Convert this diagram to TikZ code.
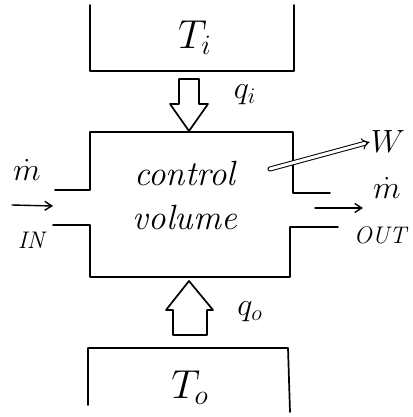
\documentclass[tikz,border=0pt]{standalone}
\usetikzlibrary{arrows.meta}
\begin{document}
\begin{tikzpicture}[x=1pt,y=-1pt,line width=1.7pt,line join=round,line cap=round,
  wall/.style={draw=black},
  flow/.style={draw=black,line width=1.4pt,-{Straight Barb[length=7pt,width=9pt]}},
  heat/.style={draw=black,line width=1.7pt,fill=white},
  lbl/.style={inner sep=0pt,font=\fontsize{20.74}{24}\selectfont,scale=1.55},
  big/.style={inner sep=0pt,font=\fontsize{20.74}{24}\selectfont,scale=1.95},
  cvtext/.style={inner sep=0pt,font=\fontsize{35}{40}\selectfont\itshape},
  small/.style={inner sep=0pt,font=\fontsize{24}{28}\selectfont\itshape}]
\useasboundingbox (0,0) rectangle (412,417);
% top reservoir
\draw[wall] (90,5) -- (90,71) -- (294,71) -- (294,5);
\node[big] (Ti) at (195,38) {$T_{i}$};
% heat in
\draw[heat] (179,79) -- (199,79) -- (199,104) -- (208,104) -- (189,131) -- (170,104) -- (179,104) -- cycle;
\node[lbl] (qi) at (245,95) {$q_{i}$};
% control volume
\draw[wall] (55,190) -- (90,190) -- (90,132) -- (293,132) -- (293,193) -- (330,193);
\draw[wall] (53,225) -- (90,225) -- (90,277) -- (290,277) -- (290,227) -- (338,227);
\node[cvtext] (cv1) at (185,174) {control};
\node[cvtext] (cv2) at (185,218) {volume};
% work
\coordinate (w0) at (270,169);
\node[lbl] (W) at (388,142) {$W$};
\draw[line width=1pt,double,double distance=3pt,-{Implies}] (w0) -- (W.west);
% inlet
\coordinate (in0) at (12,205);
\coordinate (in1) at (53,206);
\draw[flow] (in0) -- (in1);
\node[lbl] (min) at (27,170) {$\dot m$};
\node[small] (IN) at (31,240) {IN};
% outlet
\coordinate (out0) at (315,208);
\coordinate (out1) at (363,208);
\draw[flow] (out0) -- (out1);
\node[lbl] (mout) at (387,188) {$\dot m$};
\node[small] (OUT) at (380,235) {OUT};
% heat out
\draw[heat] (173,335) -- (207,335) -- (207,310) -- (213,310) -- (189,281) -- (166,310) -- (173,310) -- cycle;
\node[lbl] (qo) at (250,312) {$q_{o}$};
% bottom reservoir
\draw[wall] (88,405) -- (88,348) -- (288,348) -- (290,412);
\node[big] (To) at (190,388) {$T_{o}$};
\end{tikzpicture}
\end{document}
